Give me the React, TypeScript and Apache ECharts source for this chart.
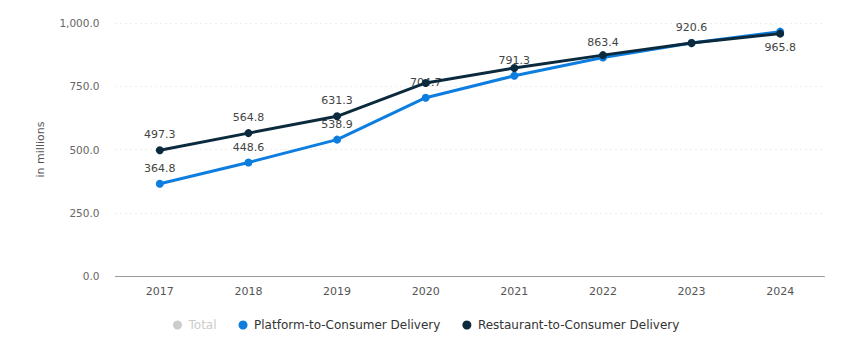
import React, { useEffect, useRef } from "react";
import * as echarts from "echarts";

const years = ["2017", "2018", "2019", "2020", "2021", "2022", "2023", "2024"];
const platform = [364.8, 448.6, 538.9, 704.7, 791.3, 863.4, 920.6, 965.8];
const restaurant = [497.3, 564.8, 631.3, 763.0, 822.0, 873.0, 920.6, 958.0];
const restaurantLabelShown = [true, true, true, false, false, false, false, false];
const platformLabelPos = ["top", "top", "top", "top", "top", "top", "top", "bottom"];

const FONT = "'DejaVu Sans', sans-serif";

export default function App() {
  const ref = useRef<HTMLDivElement>(null);
  useEffect(() => {
    const chart = echarts.init(ref.current!, null, { renderer: "svg" });
    chart.setOption({
      animation: false,
      textStyle: { fontFamily: FONT },
      grid: { left: 107.5, right: 33.5, top: 15, bottom: 83 },
      legend: {
        bottom: 23,
        left: 160,
        itemGap: 22,
        itemWidth: 12,
        itemHeight: 9,
        icon: "circle",
        textStyle: { color: "#333", fontSize: 12, fontFamily: FONT },
        inactiveColor: "#ccc",
        data: ["Total", "Platform-to-Consumer Delivery", "Restaurant-to-Consumer Delivery"],
        selected: { Total: false },
      },
      xAxis: {
        type: "category",
        data: years,
        boundaryGap: true,
        axisLine: { lineStyle: { color: "#999" } },
        axisTick: { show: false },
        axisLabel: { color: "#555", fontSize: 11, margin: 10, fontFamily: FONT },
      },
      yAxis: {
        type: "value",
        min: 0,
        max: 1000,
        interval: 250,
        name: "in millions",
        nameLocation: "middle",
        nameGap: 70,
        nameTextStyle: { color: "#555", fontSize: 11, fontFamily: FONT },
        axisLine: { show: false },
        axisTick: { show: false },
        axisLabel: {
          color: "#666",
          fontSize: 10.5,
          margin: 16,
          fontFamily: FONT,
          formatter: (v: number) =>
            v.toLocaleString("en-US", { minimumFractionDigits: 1, maximumFractionDigits: 1 }),
        },
        splitLine: { lineStyle: { color: "#ddd", type: [1, 4] } },
      },
      series: [
        { name: "Total", type: "line", data: [], itemStyle: { color: "#ccc" } },
        {
          name: "Platform-to-Consumer Delivery",
          type: "line",
          data: platform.map((v, i) => ({
            value: v,
            label: { position: platformLabelPos[i] },
          })),
          z: 2,
          symbol: "circle",
          symbolSize: 8,
          lineStyle: { width: 3, color: "#0d7ee0" },
          itemStyle: { color: "#0d7ee0" },
          label: {
            show: true,
            color: "#444",
            fontSize: 11,
            fontFamily: FONT,
            distance: 6,
            formatter: (p: any) => p.value.toFixed(1),
          },
        },
        {
          name: "Restaurant-to-Consumer Delivery",
          type: "line",
          data: restaurant.map((v, i) => ({
            value: v,
            label: { show: restaurantLabelShown[i] },
          })),
          z: 3,
          symbol: "circle",
          symbolSize: 8,
          lineStyle: { width: 3, color: "#0b2a3d" },
          itemStyle: { color: "#0b2a3d" },
          label: {
            show: true,
            position: "top",
            color: "#444",
            fontSize: 11,
            fontFamily: FONT,
            distance: 6,
            formatter: (p: any) => p.value.toFixed(1),
          },
        },
      ],
    });
    return () => chart.dispose();
  }, []);
  return <div ref={ref} style={{ width: 850, height: 351 }} />;
}
